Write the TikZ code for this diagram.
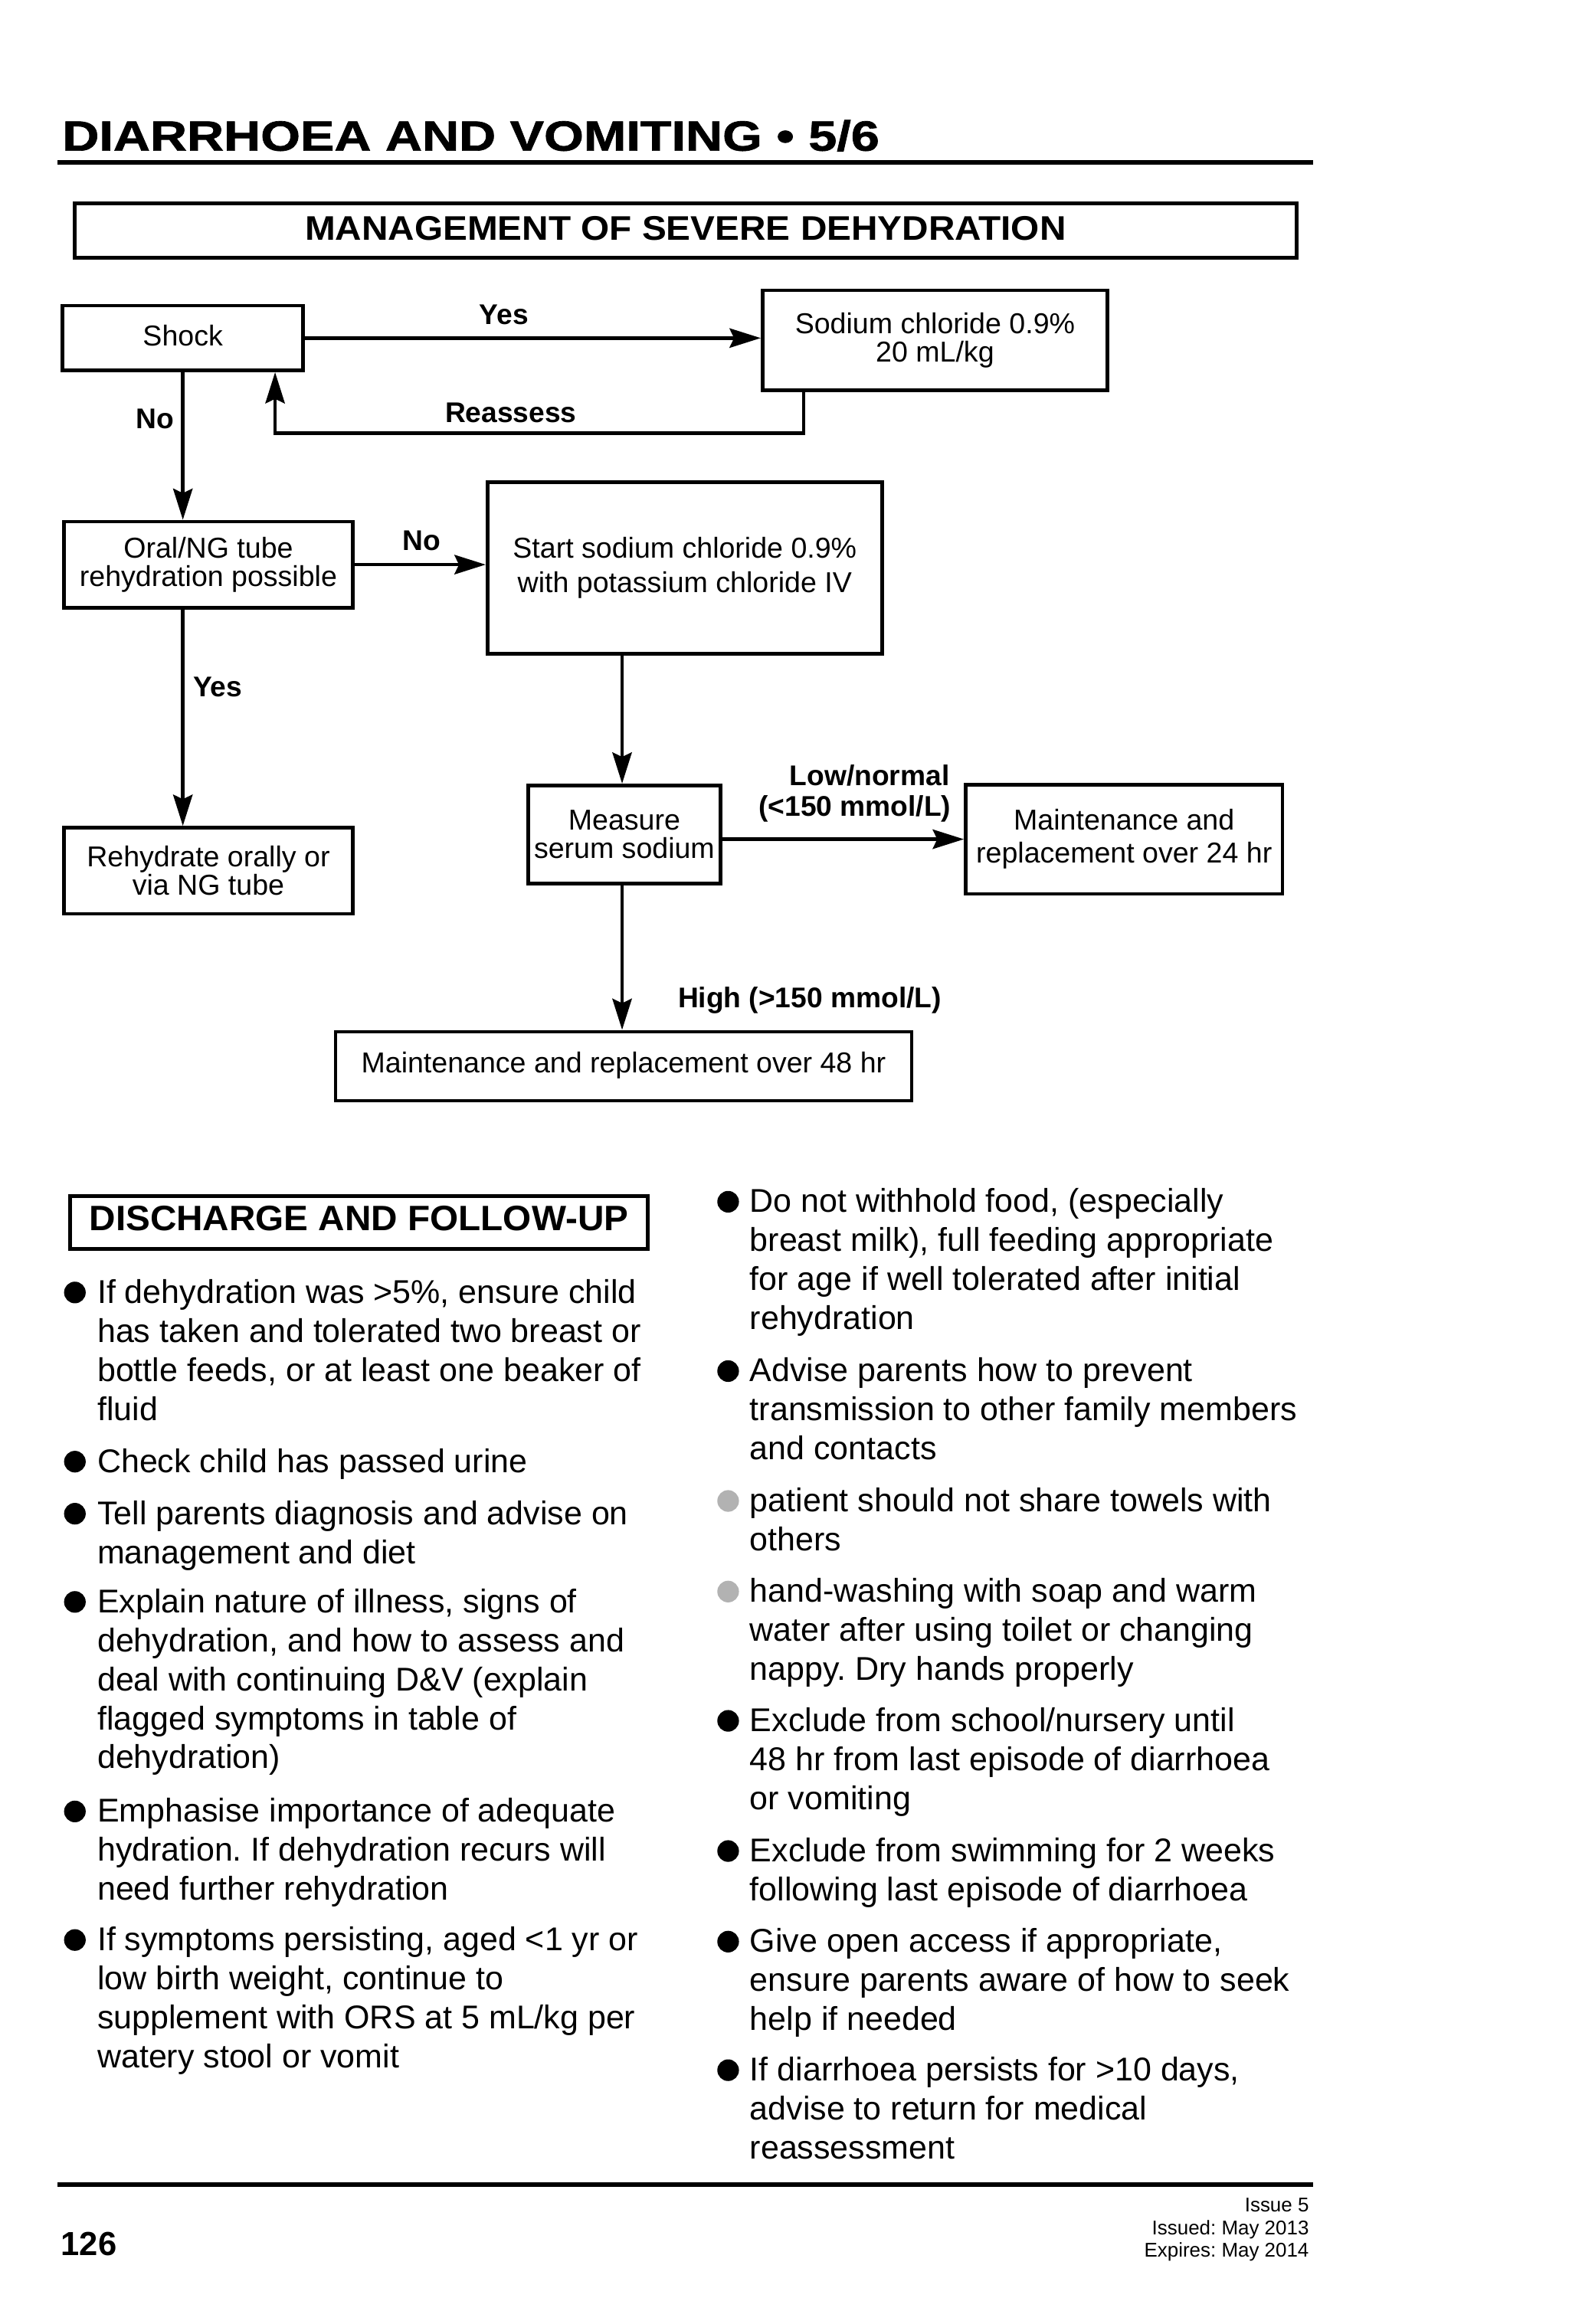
\documentclass[tikz,border=0pt]{standalone}
\usepackage{fontspec}
\setmainfont{Liberation Sans}
\usepackage{graphicx}
\usetikzlibrary{arrows.meta}
\definecolor{lightbul}{gray}{0.7}
\frenchspacing
\begin{document}
\frenchspacing
\begin{tikzpicture}[x=1pt,y=-1pt,
  box/.style={draw, line width=2.4pt, inner sep=0pt, align=center, font=\fontsize{19.4}{19.2}\selectfont},
  lab/.style={inner sep=0pt, font=\fontsize{19.2}{20}\selectfont\bfseries},
  arr/.style={line width=2.4pt, -{Stealth[length=21pt,width=13pt,inset=3pt]}},
  item/.style={anchor=north west, inner sep=0pt, align=left, font=\fontsize{22.2}{26.3}\selectfont\frenchspacing},
  rule/.style={line width=3pt},
  dot/.style={fill=black},
  greydot/.style={fill=lightbul}
]
\fill[white] (0,0) rectangle (1058,1567.4);
\useasboundingbox (0,0) rectangle (1058,1567.4);

% header
\node[anchor=base west, inner sep=0pt] (title) at (41.8,101.6)
  {\scalebox{1.207}[1]{\fontsize{28.5}{30}\selectfont\bfseries\addfontfeatures{FakeBold=1.2}DIARRHOEA AND VOMITING • 5/6}};
\draw[rule] (39,109.6) -- (885.5,109.6);

\node[box, line width=2.6pt, minimum width=824pt, minimum height=36.4pt, text height=12.8pt, text depth=0pt] (mgmt) at (462.25,155.5)
  {\scalebox{1.072}[1]{\fontsize{23}{24}\selectfont\bfseries MANAGEMENT OF SEVERE DEHYDRATION}};

% flowchart boxes
\node[box, minimum width=162.2pt, minimum height=43.6pt, text height=10.6pt, text depth=0pt] (shock) at (123.3,228) {Shock};
\node[box, minimum width=232.6pt, minimum height=67.3pt, font=\fontsize{19.4}{19}\selectfont] (sodium) at (630.5,229.45) {Sodium chloride 0.9\%\\20 mL/kg};
\node[box, minimum width=194.6pt, minimum height=58pt] (oral) at (140.5,380.8) {Oral/NG tube\\rehydration possible};
\node[box, minimum width=266.1pt, minimum height=115.6pt, font=\fontsize{19.4}{23}\selectfont] (start) at (461.75,383) {Start sodium chloride 0.9\%\\with potassium chloride IV};
\node[box, minimum width=129.6pt, minimum height=66.1pt, font=\fontsize{19.4}{19.3}\selectfont] (measure) at (421,562.75) {Measure\\serum sodium};
\node[box, minimum width=213.6pt, minimum height=73.6pt, font=\fontsize{19.4}{22.3}\selectfont] (maint24) at (758,566) {Maintenance and\\replacement over 24 hr};
\node[box, minimum width=194.6pt, minimum height=58.1pt] (rehyd) at (140.5,587.25) {Rehydrate orally or\\via NG tube};
\node[box, minimum width=388.6pt, minimum height=46.5pt, text height=9.3pt, text depth=0pt] (maint48) at (420.5,719.05) {Maintenance and replacement over 48 hr};

% connector labels
\node[lab, anchor=base west] (lyes1) at (323,219) {Yes};
\node[lab, anchor=base west] (lreas) at (300,285) {Reassess};
\node[lab, anchor=base west] (lno1) at (91.5,289) {No};
\node[lab, anchor=base west] (lno2) at (271.5,371) {No};
\node[lab, anchor=base west] (lyes2) at (130,470) {Yes};
\node[lab, anchor=base east] (llow1) at (640.5,530) {Low/normal};
\node[lab, anchor=base east] (llow2) at (641.5,550.6) {(<150 mmol/L)};
\node[lab, anchor=base west] (lhigh) at (457,679.5) {High (>150 mmol/L)};

% connectors
\coordinate (ra) at (542,292);
\coordinate (rb) at (185.5,292);
\coordinate (vx) at (419.5,500);
\draw[arr] (shock.east) -- (shock.east -| sodium.west);
\draw[arr] (sodium.south -| ra) -- (ra) -- (rb) -- (rb |- shock.south);
\draw[arr] (shock.south) -- (shock.south |- oral.north);
\draw[arr] (oral.east) -- (oral.east -| start.west);
\draw[arr] (shock.south |- oral.south) -- (shock.south |- rehyd.north);
\draw[arr] (start.south -| vx) -- (measure.north -| vx);
\draw[arr] (measure.east |- maint24.west) -- (maint24.west);
\draw[arr] (measure.south -| vx) -- (maint48.north -| vx);

% discharge section
\node[box, line width=2.6pt, minimum width=389.4pt, minimum height=35.5pt, text height=11.3pt, text depth=0pt] (discharge) at (242,824.35)
  {\scalebox{1.035}[1]{\fontsize{23.8}{24}\selectfont\bfseries DISCHARGE AND FOLLOW-UP}};

% left column
\fill[dot] (50.5,871.7) circle (7.3pt);
\node[item] (l1) at (65.5,860.3) {\strut If dehydration was >5\%, ensure child\\has taken and tolerated two breast or\\bottle feeds, or at least one beaker of\\fluid};
\fill[dot] (50.5,985.8) circle (7.3pt);
\node[item] (l2) at (65.5,974.4) {\strut Check child has passed urine};
\fill[dot] (50.5,1020.9) circle (7.3pt);
\node[item] (l3) at (65.5,1009.5) {\strut Tell parents diagnosis and advise on\\management and diet};
\fill[dot] (50.5,1080.4) circle (7.3pt);
\node[item] (l4) at (65.5,1069) {\strut Explain nature of illness, signs of\\dehydration, and how to assess and\\deal with continuing D\&V (explain\\flagged symptoms in table of\\dehydration)};
\fill[dot] (50.5,1221.7) circle (7.3pt);
\node[item] (l5) at (65.5,1210.3) {\strut Emphasise importance of adequate\\hydration. If dehydration recurs will\\need further rehydration};
\fill[dot] (50.5,1308.4) circle (7.3pt);
\node[item] (l6) at (65.5,1297) {\strut If symptoms persisting, aged <1 yr or\\low birth weight, continue to\\supplement with ORS at 5 mL/kg per\\watery stool or vomit};

% right column
\fill[dot] (491,810.5) circle (7.3pt);
\node[item] (r1) at (505.5,799.1) {\strut Do not withhold food, (especially\\breast milk), full feeding appropriate\\for age if well tolerated after initial\\rehydration};
\fill[dot] (491,924.7) circle (7.3pt);
\node[item] (r2) at (505.5,913.3) {\strut Advise parents how to prevent\\transmission to other family members\\and contacts};
\fill[greydot] (491,1012.3) circle (7.3pt);
\node[item] (r3) at (505.5,1000.9) {\strut patient should not share towels with\\others};
\fill[greydot] (491,1073.4) circle (7.3pt);
\node[item] (r4) at (505.5,1062) {\strut hand-washing with soap and warm\\water after using toilet or changing\\nappy. Dry hands properly};
\fill[dot] (491,1160.6) circle (7.3pt);
\node[item] (r5) at (505.5,1149.2) {\strut Exclude from school/nursery until\\48 hr from last episode of diarrhoea\\or vomiting};
\fill[dot] (491,1248.4) circle (7.3pt);
\node[item] (r6) at (505.5,1237) {\strut Exclude from swimming for 2 weeks\\following last episode of diarrhoea};
\fill[dot] (491,1309.5) circle (7.3pt);
\node[item] (r7) at (505.5,1298.1) {\strut Give open access if appropriate,\\ensure parents aware of how to seek\\help if needed};
\fill[dot] (491,1396.2) circle (7.3pt);
\node[item] (r8) at (505.5,1384.8) {\strut If diarrhoea persists for >10 days,\\advise to return for medical\\reassessment};

% footer
\draw[rule] (39,1473.2) -- (885.5,1473.2);
\node[anchor=base west, inner sep=0pt, font=\fontsize{22.5}{24}\selectfont\bfseries] (pg) at (41,1521.4) {126};
\node[anchor=base east, inner sep=0pt, font=\fontsize{13.4}{15}\selectfont] (iss1) at (882.8,1491.6) {Issue 5};
\node[anchor=base east, inner sep=0pt, font=\fontsize{13.4}{15}\selectfont] (iss2) at (882.8,1507.1) {Issued: May 2013};
\node[anchor=base east, inner sep=0pt, font=\fontsize{13.4}{15}\selectfont] (iss3) at (882.8,1522.3) {Expires: May 2014};
\end{tikzpicture}
\end{document}
